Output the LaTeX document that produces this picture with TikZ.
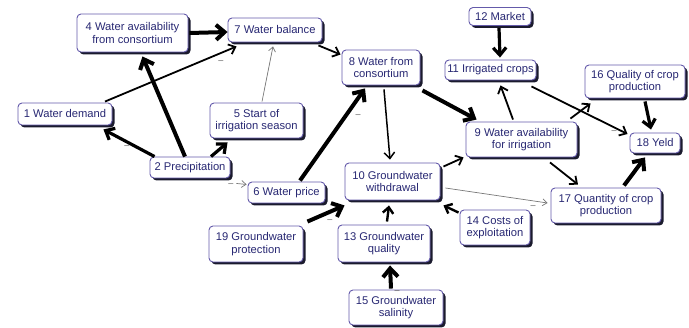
\documentclass[tikz,border=0pt]{standalone}
\usepackage{fontspec}
\setmainfont{Liberation Sans}
\usetikzlibrary{arrows.meta,shadows}
\definecolor{txt}{RGB}{40,40,115}
\definecolor{bord}{RGB}{100,90,170}
\definecolor{shd}{RGB}{15,15,35}
\definecolor{thin}{RGB}{120,120,120}
\definecolor{mcol}{RGB}{90,90,90}
\tikzset{
  box/.style={draw=bord, line width=0.9pt, fill=white, rounded corners=4pt,
    text=txt, font=\fontsize{11.2}{12.6}\selectfont, align=center, inner sep=0pt,
    drop shadow={shadow xshift=2.5pt, shadow yshift=-2.5pt, fill=shd, opacity=0.95}},
  wA/.style={line width=4pt, -{Straight Barb[length=8.5pt,width=15pt]}},
  wB/.style={line width=3.2pt, -{Straight Barb[length=7.5pt,width=13pt]}},
  wC/.style={line width=1.8pt, -{Straight Barb[length=6pt,width=10.5pt]}},
  wD/.style={line width=0.7pt, draw=thin, -{Straight Barb[length=4.5pt,width=7pt]}},
  minus/.style={text=mcol, font=\fontsize{9}{9}\selectfont, inner sep=0pt}
}
\begin{document}
\begin{tikzpicture}[x=1pt,y=-1pt]
\useasboundingbox (0,0) rectangle (689,328);
% nodes
\node[box, minimum width=94pt, minimum height=22pt] (n1) at (65,114) {1 Water demand};
\node[box, minimum width=111pt, minimum height=38pt] (n4) at (132.5,33) {4 Water availability\\from consortium};
\node[box, minimum width=94pt, minimum height=24pt] (n7) at (275,30) {7 Water balance};
\node[box, minimum width=93pt, minimum height=35pt] (n5) at (256.5,120.5) {5 Start of\\irrigation season};
\node[box, minimum width=80pt, minimum height=21pt] (n2) at (190,167.5) {2 Precipitation};
\node[box, minimum width=77pt, minimum height=21pt] (n6) at (286.5,192.5) {6 Water price};
\node[box, minimum width=94pt, minimum height=36pt] (n19) at (256,244) {19 Groundwater\\protection};
\node[box, minimum width=78pt, minimum height=35pt] (n8) at (381,67.5) {8 Water from\\consortium};
\node[box, minimum width=95pt, minimum height=37pt] (n10) at (392.5,181.5) {10 Groundwater\\withdrawal};
\node[box, minimum width=92pt, minimum height=37pt] (n13) at (384,243.5) {13 Groundwater\\quality};
\node[box, minimum width=94pt, minimum height=35pt] (n15) at (396,307.5) {15 Groundwater\\salinity};
\node[box, minimum width=70pt, minimum height=35pt] (n14) at (495,227.5) {14 Costs of\\exploitation};
\node[box, minimum width=110pt, minimum height=35pt] (n17) at (606,205.5) {17 Quantity of crop\\production};
\node[box, minimum width=111pt, minimum height=35pt] (n9) at (521.5,139.5) {9 Water availability\\for irrigation};
\node[box, minimum width=91pt, minimum height=20pt] (n11) at (490.5,70) {11 Irrigated crops};
\node[box, minimum width=62pt, minimum height=18pt] (n12) at (500,16.5) {12 Market};
\node[box, minimum width=100pt, minimum height=33pt] (n16) at (635,81.5) {16 Quality of crop\\production};
\node[box, minimum width=50pt, minimum height=20pt] (n18) at (655,143) {18 Yeld};
% connectors
\draw[wA] ([shift={(1,0)}]n4.east) -- ([shift={(0,2)}]n7.west);
\draw[wA] ([shift={(-5,0)}]n2.north) -- ([shift={(10,4)}]n4.south);
\draw[wB] ([shift={(5,0)}]n2.north west) -- ([shift={(-9,4)}]n1.south east);
\draw[wB] ([shift={(21,0)}]n2.north) -- ([shift={(18,4)}]n5.south west);
\draw[wC] ([shift={(40,-1)}]n1.north) -- ([shift={(9,4)}]n7.south west);
\draw[wD] ([shift={(5.5,-1)}]n5.north) -- ([shift={(-2,4)}]n7.south);
\draw[wC] ([shift={(-4,3)}]n7.south east) -- ([shift={(-1,5)}]n8.north west);
\draw[wD] ([shift={(6,5)}]n2.south east) -- ([shift={(-1,-8)}]n6.west);
\draw[wA] ([shift={(13.5,-1)}]n6.north) -- ([shift={(-16,3)}]n8.south);
\draw[wC, line width=1.5pt] ([shift={(3,4)}]n8.south) -- ([shift={(-2.5,-3)}]n10.north);
\draw[wA] ([shift={(2,5)}]n8.south east) -- ([shift={(11,-2)}]n9.north west);
\draw[wC] ([shift={(-8.5,-2)}]n9.north) -- ([shift={(10,5)}]n11.south);
\draw[wC] ([shift={(-5,6)}]n11.south east) -- ([shift={(-2,-9)}]n18.west);
\draw[wC] ([shift={(-7,-3)}]n9.north east) -- ([shift={(6,5)}]n16.south west);
\draw[wB] ([shift={(-1,2)}]n12.south) -- ([shift={(9.5,-2)}]n11.north);
\draw[wB] ([shift={(10,3)}]n16.south) -- ([shift={(-4,-3)}]n18.north);
\draw[wC] ([shift={(3,4)}]n10.north east) -- ([shift={(-2,0)}]n9.south west);
\draw[wC] ([shift={(28.5,5)}]n9.south) -- ([shift={(-28,-3)}]n17.north);
\draw[wD] ([shift={(5,6.5)}]n10.east) -- ([shift={(-3,-2.5)}]n17.west);
\draw[wA] ([shift={(18,-2)}]n17.north) -- ([shift={(-10,4)}]n18.south);
\draw[wA] ([shift={(4,-4)}]n19.north east) -- ([shift={(0,5)}]n10.south west);
\draw[wC, line width=2.4pt] ([shift={(-1,3)}]n14.north west) -- ([shift={(3,5)}]n10.south east);
\draw[wC, line width=2.4pt] ([shift={(3,-3)}]n13.north) -- ([shift={(-3.5,5)}]n10.south);
\draw[wA] ([shift={(-5,-1)}]n15.north) -- ([shift={(6,3)}]n13.south);
% minus signs
\node[minus] (m1) at (221,62) {–};
\node[minus] (m2) at (127,147) {–};
\node[minus] (m3) at (231,185) {–};
\node[minus] (m4) at (358,116) {–};
\node[minus] (m5) at (330,221) {–};
\node[minus] (m6) at (533,207) {–};
\node[minus] (m7) at (614,132) {–};
\node[minus] (m8) at (397,292) {–};
\end{tikzpicture}
\end{document}
